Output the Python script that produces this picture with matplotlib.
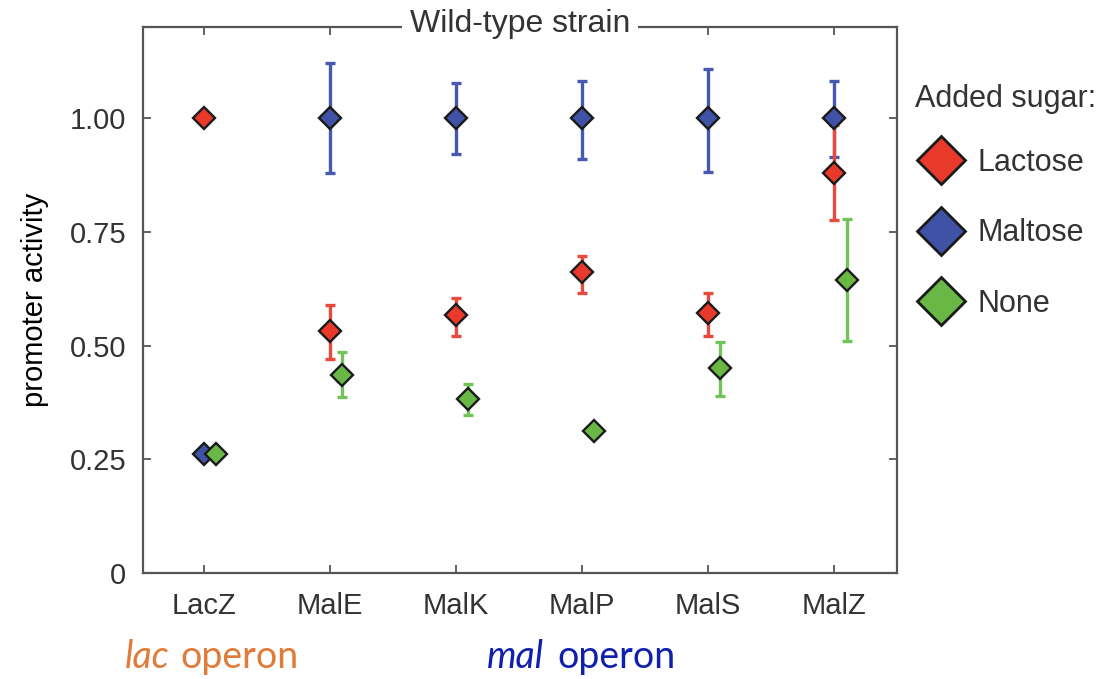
import matplotlib
matplotlib.use("Agg")
import matplotlib.pyplot as plt
from matplotlib.lines import Line2D
import numpy as np

# genes on the x axis
genes = ["LacZ", "MalE", "MalK", "MalP", "MalS", "MalZ"]

# promoter activity per added sugar, with error bar ends (nan = no bar)
lactose = [1.00, 0.533, 0.566, 0.662, 0.571, 0.880]
lactose_lo = [np.nan, 0.471, 0.521, 0.615, 0.521, 0.776]
lactose_hi = [np.nan, 0.589, 0.605, 0.697, 0.615, 0.984]

maltose = [0.262, 1.00, 1.00, 1.00, 1.00, 1.00]
maltose_lo = [np.nan, 0.880, 0.921, 0.911, 0.882, 0.914]
maltose_hi = [np.nan, 1.121, 1.076, 1.081, 1.108, 1.082]

none = [0.262, 0.435, 0.382, 0.312, 0.450, 0.644]
none_lo = [0.262, 0.386, 0.348, np.nan, 0.390, 0.511]
none_hi = [0.262, 0.485, 0.415, np.nan, 0.508, 0.778]

plt.rcParams["font.family"] = ["Liberation Sans", "DejaVu Sans"]

fig = plt.figure(figsize=(11.11, 6.79), dpi=100)
ax = fig.add_axes([0.1287, 0.1561, 0.6787, 0.8041])

x = np.arange(len(genes))


def serie(xs, ys, lo, hi, color, ecolor):
    ys = np.array(ys)
    err = np.vstack([ys - np.array(lo), np.array(hi) - ys])
    err = np.nan_to_num(err)
    ax.errorbar(xs, ys, yerr=err, fmt="none", ecolor=ecolor, elinewidth=2.4,
                capsize=3.5, capthick=2.4, zorder=2)
    ax.plot(xs, ys, "D", ms=11.5, mfc=color, mec="#1a1a1a", mew=1.7, zorder=3)


serie(x, maltose, maltose_lo, maltose_hi, "#3f52a6", "#4658b0")
serie(x, lactose, lactose_lo, lactose_hi, "#e8392b", "#e84a3e")
serie(x + 0.1, none, none_lo, none_hi, "#69b845", "#72c45a")

ax.set_xlim(-0.48, 5.5)
ax.set_ylim(0, 1.2)
ax.set_xticks(x)
ax.set_xticklabels(genes)
ax.set_yticks([0, 0.25, 0.5, 0.75, 1.0])
ax.set_yticklabels(["0", "0.25", "0.50", "0.75", "1.00"])
ax.tick_params(direction="in", length=6, width=1.3, color="#555555",
               labelsize=21, labelcolor="#333333", top=True, right=True)
ax.tick_params(axis="x", pad=14)
ax.tick_params(axis="y", pad=12)
for s in ax.spines.values():
    s.set_color("#555555")
    s.set_linewidth(1.6)

ax.set_ylabel("promoter activity", fontsize=21)
ax.yaxis.set_label_coords(-0.124, 0.5)
ax.set_title("Wild-type strain", fontsize=23, color="#333333", y=0.975,
             bbox=dict(facecolor="white", edgecolor="none", pad=6))

# legend: title as separate text, entries below
fig.text(915 / 1111, 1 - 99 / 679, "Added sugar:", fontsize=22, color="#333333",
         va="center", ha="left")
handles = [
    Line2D([], [], ls="none", marker="D", ms=24, mfc="#e8392b", mec="#1a1a1a", mew=2),
    Line2D([], [], ls="none", marker="D", ms=24, mfc="#3f52a6", mec="#1a1a1a", mew=2),
    Line2D([], [], ls="none", marker="D", ms=24, mfc="#69b845", mec="#1a1a1a", mew=2),
]
leg = fig.legend(handles, ["Lactose", "Maltose", "None"],
                 loc="upper left", bbox_to_anchor=(0.825, 1 - 148 / 679),
                 frameon=False, fontsize=22,
                 labelspacing=1.32, handletextpad=0.4, handlelength=1.6,
                 borderaxespad=0, borderpad=0)
for t in leg.get_texts():
    t.set_color("#333333")

# operon labels under the axis
fig.text(125 / 1111, 0.033, "lac", fontsize=27, style="italic", color="#e07b39",
         family="Lato", va="center")
fig.text(180 / 1111, 0.033, "operon", fontsize=27, color="#e07b39",
         family="Lato", va="center")
fig.text(487 / 1111, 0.033, "mal", fontsize=27, style="italic", color="#0f1fb0",
         family="Lato", va="center")
fig.text(557 / 1111, 0.033, "operon", fontsize=27, color="#0f1fb0",
         family="Lato", va="center")

fig.savefig("out.png", dpi=100)
